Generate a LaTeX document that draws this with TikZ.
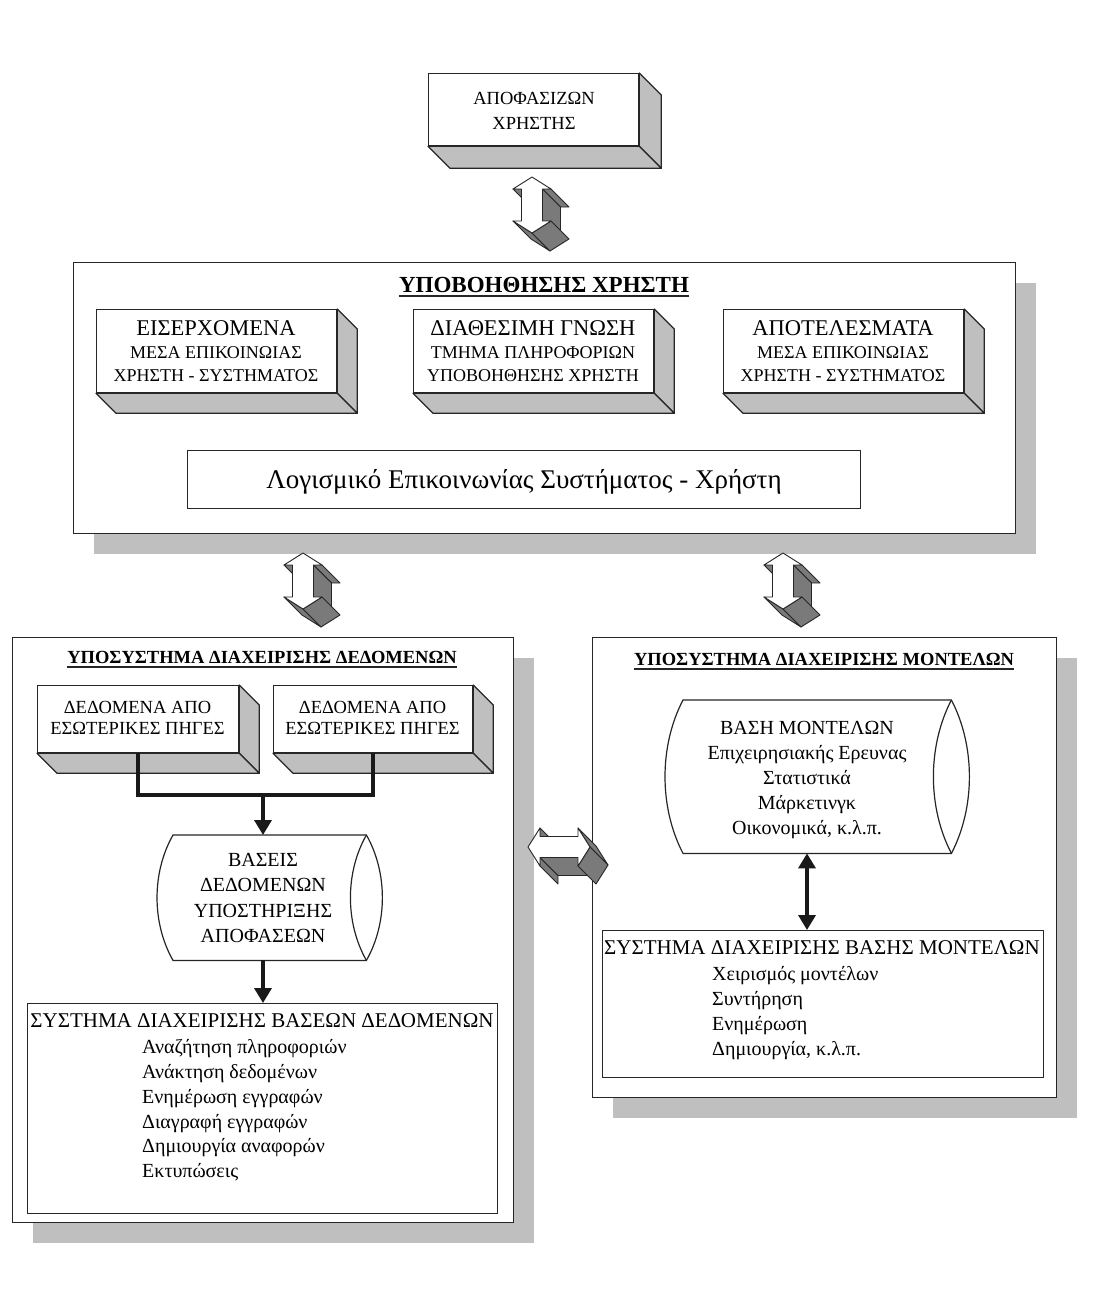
\documentclass[tikz,border=0pt]{standalone}
\usepackage{fontspec}
\setmainfont{Liberation Serif}
\usetikzlibrary{arrows.meta,calc}
\tikzset{
  frame/.style={draw=black!85,line width=1.3pt,fill=white,inner sep=0pt,anchor=north west},
  area/.style={inner sep=0pt,anchor=north west},
  shadowbox/.style={fill=black!25},
  depthface/.style={fill=black!25,draw=black!85,line width=1.2pt,line join=round},
  aface/.style={fill=black!52,draw=black!85,line width=0.9pt,line join=round},
  afront/.style={fill=white,draw=black!85,line width=0.9pt,line join=round},
  cylline/.style={draw=black!85,line width=1.2pt,fill=white},
  txt/.style={inner sep=0pt,anchor=base,text=black},
  txtl/.style={inner sep=0pt,anchor=base west,text=black},
  uline/.style={draw=black!85,line width=1.2pt},
  conn/.style={draw=black!90,line width=3.5pt,line join=miter},
  f18/.style={font=\fontsize{18}{22}\selectfont},
  f185/.style={font=\fontsize{18.5}{22}\selectfont},
  f20/.style={font=\fontsize{20}{24}\selectfont},
  f21/.style={font=\fontsize{21}{25}\selectfont},
  f225/.style={font=\fontsize{22.5}{26}\selectfont},
  f27/.style={font=\fontsize{27}{31}\selectfont},
  fbt/.style={font=\fontsize{23}{27}\selectfont\bfseries},
  fbs/.style={font=\fontsize{18.5}{22}\selectfont\bfseries},
}
\newcommand\rbox[6][frame]{\node[#1,minimum width={#5-#3},minimum height={#6-#4}] (#2) at (#3,#4) {};}
\newcommand\depthof[2]{%
  \filldraw[depthface] (#1.north east) -- ++(#2,#2) -- ($(#1.south east)+(#2,#2)$) -- (#1.south east) -- cycle;
  \filldraw[depthface] (#1.south west) -- (#1.south east) -- ++(#2,#2) -- ($(#1.south west)+(#2,#2)$) -- cycle;}
\newcommand\cylout[3]{%
  \draw[cylline] (#1.north west) -- (#1.north east) .. controls +(#2,#3) and +(#2,-#3) .. (#1.south east) -- (#1.south west) .. controls +(-#2,-#3) and +(-#2,#3) .. (#1.north west) -- cycle;
  \draw[cylline,fill=none] (#1.north east) .. controls +(-#2,#3) and +(-#2,-#3) .. (#1.south east);}
\newcommand\varrow[3]{%
  \begin{scope}[shift={(#2,#3)}]
    \coordinate (#1) at (0,0);
    \filldraw[aface] (-19,-16) -- (-10.5,-16) -- ++(18,18) -- ++(-8.5,0) -- cycle;
    \filldraw[aface] (10.5,-16) -- (19,-16) -- ++(18,18) -- ++(-8.5,0) -- cycle;
    \filldraw[aface] (10.5,-16) -- (10.5,16) -- ++(18,18) -- ++(0,-32) -- cycle;
    \filldraw[aface] (0,28) -- (-19,16) -- ++(18,18) -- ++(19,12) -- cycle;
    \filldraw[aface] (19,16) -- (0,28) -- ++(18,18) -- ++(19,-12) -- cycle;
    \filldraw[afront] (0,-28) -- (19,-16) -- (10.5,-16) -- (10.5,16) -- (19,16) -- (0,28) -- (-19,16) -- (-10.5,16) -- (-10.5,-16) -- (-19,-16) -- cycle;
  \end{scope}}
\newcommand\harrow[3]{%
  \begin{scope}[shift={(#2,#3)}]
    \coordinate (#1) at (0,0);
    \filldraw[aface] (-19,-19) -- (-19,-10.5) -- ++(18,18) -- ++(0,-8.5) -- cycle;
    \filldraw[aface] (-19,10.5) -- (-19,19) -- ++(18,18) -- ++(0,-8.5) -- cycle;
    \filldraw[aface] (-19,10.5) -- (19,10.5) -- ++(18,18) -- ++(-38,0) -- cycle;
    \filldraw[aface] (19,-19) -- (31,0) -- ++(18,18) -- ++(-12,-19) -- cycle;
    \filldraw[aface] (31,0) -- (19,19) -- ++(18,18) -- ++(12,-19) -- cycle;
    \filldraw[afront] (-31,0) -- (-19,-19) -- (-19,-10.5) -- (19,-10.5) -- (19,-19) -- (31,0) -- (19,19) -- (19,10.5) -- (-19,10.5) -- (-19,19) -- cycle;
  \end{scope}}
\begin{document}
\begin{tikzpicture}[x=1pt,y=-1pt]
\useasboundingbox (0,0) rectangle (1103,1295);
\fill[white] (0,0) rectangle (1103,1295);

% decision maker
\rbox{apo}{428}{73}{638}{145}
\depthof{apo}{22}
\node[txt,f185] (apo1) at (534,105) {ΑΠΟΦΑΣΙΖΩΝ};
\node[txt,f185] (apo2) at (534,129) {ΧΡΗΣΤΗΣ};

\varrow{ar1}{532}{205}

% user support subsystem
\fill[shadowbox] (94,283) rectangle (1036,554);
\rbox{ub}{73}{262}{1015}{533}
\node[txt,fbt] (ubt) at (544,292) {ΥΠΟΒΟΗΘΗΣΗΣ ΧΡΗΣΤΗ};
\draw[uline] ($(ubt.base west)+(0,4)$) -- ($(ubt.base east)+(0,4)$);

\rbox{b1}{96}{309}{336}{392}
\depthof{b1}{20}
\node[txt,f225] (b1a) at (216,335) {ΕΙΣΕΡΧΟΜΕΝΑ};
\node[txt,f18] (b1b) at (216,358) {ΜΕΣΑ ΕΠΙΚΟΙΝΩΙΑΣ};
\node[txt,f18] (b1c) at (216,381) {ΧΡΗΣΤΗ - ΣΥΣΤΗΜΑΤΟΣ};

\rbox{b2}{413}{309}{653}{392}
\depthof{b2}{20}
\node[txt,f225] (b2a) at (533,335) {ΔΙΑΘΕΣΙΜΗ ΓΝΩΣΗ};
\node[txt,f18] (b2b) at (533,358) {ΤΜΗΜΑ ΠΛΗΡΟΦΟΡΙΩΝ};
\node[txt,f18] (b2c) at (533,381) {ΥΠΟΒΟΗΘΗΣΗΣ ΧΡΗΣΤΗ};

\rbox{b3}{723}{309}{963}{392}
\depthof{b3}{20}
\node[txt,f225] (b3a) at (843,335) {ΑΠΟΤΕΛΕΣΜΑΤΑ};
\node[txt,f18] (b3b) at (843,358) {ΜΕΣΑ ΕΠΙΚΟΙΝΩΙΑΣ};
\node[txt,f18] (b3c) at (843,381) {ΧΡΗΣΤΗ - ΣΥΣΤΗΜΑΤΟΣ};

\rbox{sw}{187}{450}{860}{508}
\node[txt,f27] (swt) at (524,488) {Λογισμικό Επικοινωνίας Συστήματος - Χρήστη};

\varrow{ar2}{303}{581}
\varrow{ar3}{783}{581}

% data management subsystem
\fill[shadowbox] (33,658) rectangle (534,1243);
\rbox{ls}{12}{637}{513}{1222}
\node[txt,fbs] (lst) at (262,663) {ΥΠΟΣΥΣΤΗΜΑ ΔΙΑΧΕΙΡΙΣΗΣ ΔΕΔΟΜΕΝΩΝ};
\draw[uline] ($(lst.base west)+(0,4)$) -- ($(lst.base east)+(0,4)$);

\rbox{dA}{37}{685}{238}{752}
\depthof{dA}{20}
\node[txt,f185] (dA1) at (137.5,713) {ΔΕΔΟΜΕΝΑ ΑΠΟ};
\node[txt,f185] (dA2) at (137.5,734) {ΕΣΩΤΕΡΙΚΕΣ ΠΗΓΕΣ};

\rbox{dB}{273}{685}{472}{752}
\depthof{dB}{20}
\node[txt,f185] (dB1) at (372.5,713) {ΔΕΔΟΜΕΝΑ ΑΠΟ};
\node[txt,f185] (dB2) at (372.5,734) {ΕΣΩΤΕΡΙΚΕΣ ΠΗΓΕΣ};

\node[area,minimum width=193,minimum height=125] (cylA) at (173,835) {};
\cylout{cylA}{21.3}{37.5}
\node[txt,f20] (cA1) at (263,866) {ΒΑΣΕΙΣ};
\node[txt,f20] (cA2) at (263,891) {ΔΕΔΟΜΕΝΩΝ};
\node[txt,f20] (cA3) at (263,917) {ΥΠΟΣΤΗΡΙΞΗΣ};
\node[txt,f20] (cA4) at (263,942) {ΑΠΟΦΑΣΕΩΝ};

\coordinate (jn) at (263,795);
\draw[conn] (dA.south) |- (jn) -| (dB.south);
\draw[conn,-{Triangle[length=15pt,width=17pt]}] (jn) -- (jn |- cylA.north);

\rbox{dbA}{27}{1003}{497}{1213}
\draw[conn,-{Triangle[length=15pt,width=17pt]}] (jn |- cylA.south) -- (jn |- dbA.north);
\node[txt,f21] (dbAt) at (262,1027) {ΣΥΣΤΗΜΑ ΔΙΑΧΕΙΡΙΣΗΣ ΒΑΣΕΩΝ ΔΕΔΟΜΕΝΩΝ};
\node[txtl,f20] (dbA1) at (142,1053) {Αναζήτηση πληροφοριών};
\node[txtl,f20] (dbA2) at (142,1078) {Ανάκτηση δεδομένων};
\node[txtl,f20] (dbA3) at (142,1103) {Ενημέρωση εγγραφών};
\node[txtl,f20] (dbA4) at (142,1128) {Διαγραφή εγγραφών};
\node[txtl,f20] (dbA5) at (142,1152) {Δημιουργία αναφορών};
\node[txtl,f20] (dbA6) at (142,1177) {Εκτυπώσεις};

% model management subsystem
\fill[shadowbox] (613,658) rectangle (1077,1118);
\rbox{rs}{592}{637}{1056}{1097}
\node[txt,fbs] (rst) at (824,665) {ΥΠΟΣΥΣΤΗΜΑ ΔΙΑΧΕΙΡΙΣΗΣ ΜΟΝΤΕΛΩΝ};
\draw[uline] ($(rst.base west)+(0,4)$) -- ($(rst.base east)+(0,4)$);

\node[area,minimum width=268,minimum height=153] (cylB) at (683,700) {};
\cylout{cylB}{24}{46}
\node[txt,f20] (cB1) at (807,734) {ΒΑΣΗ ΜΟΝΤΕΛΩΝ};
\node[txt,f20] (cB2) at (807,759) {Επιχειρησιακής Ερευνας};
\node[txt,f20] (cB3) at (807,784) {Στατιστικά};
\node[txt,f20] (cB4) at (807,809) {Μάρκετινγκ};
\node[txt,f20] (cB5) at (807,834) {Οικονομικά, κ.λ.π.};

\rbox{dbB}{602}{930}{1043}{1077}
\coordinate (mx) at (807,0);
\draw[conn,{Triangle[length=15pt,width=17pt]}-{Triangle[length=15pt,width=17pt]}] (mx |- cylB.south) -- (mx |- dbB.north);
\node[txt,f21] (dbBt) at (822,954) {ΣΥΣΤΗΜΑ ΔΙΑΧΕΙΡΙΣΗΣ ΒΑΣΗΣ ΜΟΝΤΕΛΩΝ};
\node[txtl,f20] (dbB1) at (712,980) {Χειρισμός μοντέλων};
\node[txtl,f20] (dbB2) at (712,1005) {Συντήρηση};
\node[txtl,f20] (dbB3) at (712,1030) {Ενημέρωση};
\node[txtl,f20] (dbB4) at (712,1055) {Δημιουργία, κ.λ.π.};

\harrow{ar4}{559}{847}
\end{tikzpicture}
\end{document}
